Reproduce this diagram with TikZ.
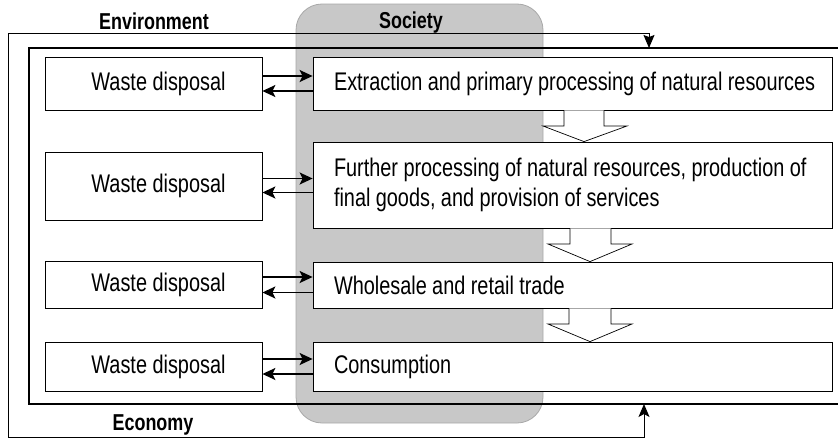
\documentclass[tikz,border=0pt]{standalone}
\usepackage{fontspec}
\setmainfont{Liberation Sans}[FakeStretch=0.78]
\usetikzlibrary{arrows.meta,calc}
\definecolor{socfill}{HTML}{C8C8C8}
\definecolor{socdraw}{HTML}{A8A8A8}
\newcommand\stagesp{\spaceskip=5.4pt\relax\hyphenpenalty=10000\relax\hspace*{10.5pt}}
\newcommand\indentline{\hspace*{10.5pt}}
\tikzset{
  wastebox/.style={draw, line width=0.8pt, fill=white, minimum width=217pt, inner sep=0pt,
    font=\fontsize{25.5}{29.5}\selectfont},
  stagebox/.style={draw, line width=0.8pt, fill=white, minimum width=519pt, text width=498pt,
    inner xsep=10.5pt, inner ysep=0pt, align=left,
    font=\fontsize{25.5}{29.5}\selectfont},
  flowarrow/.style={line width=1.8pt, -{Stealth[length=13pt,width=12pt,inset=3pt]}},
  blockarrow/.style={draw, line width=0.7pt, fill=white},
  envline/.style={line width=1pt, {Stealth[length=13pt,width=11pt,inset=3pt]}-{Stealth[length=13pt,width=11pt,inset=2pt]}},
  econline/.style={line width=1.6pt},
  heading/.style={anchor=base, inner sep=0pt, font=\fontsize{23}{27}\selectfont\bfseries}
}
\begin{document}
\begin{tikzpicture}[x=1pt,y=-1pt]
\useasboundingbox (0,0) rectangle (838,439);
% society
\filldraw[fill=socfill, draw=socdraw, line width=0.8pt, rounded corners=26pt] (296,4) rectangle (543,423);
% headings
\node[heading] (env) at (154,29) {Environment};
\node[heading] (soc) at (411,28) {Society};
\node[heading] (eco) at (153,430) {Economy};
% economy frame
\coordinate (econTL) at (29,48);
\coordinate (econBL) at (29,404);
\coordinate (econTR) at (838,48);
\coordinate (econBR) at (838,404);
\draw[econline] (econTR) -- (econTL) -- (econBL) -- (econBR);
% environment frame
\coordinate (envIn1) at (649,48);
\coordinate (envIn2) at (644,404);
\draw[envline] (envIn2) -- (644,437) -- (8,437) -- (8,33) -- (649,33) -- (envIn1);
% waste boxes
\node[wastebox, minimum height=53pt] (w1) at (153.5,83.5) {\hspace*{10pt}Waste disposal};
\node[wastebox, minimum height=68pt] (w2) at (153.5,186) {\hspace*{10pt}Waste disposal};
\node[wastebox, minimum height=47pt] (w3) at (153.5,284.5) {\hspace*{10pt}Waste disposal};
\node[wastebox, minimum height=49pt] (w4) at (153.5,366.5) {\hspace*{10pt}Waste disposal};
% stage boxes
\node[stagebox, minimum height=53pt] (r1) at (572.5,83.5) {\stagesp Extraction and primary processing of natural resources};
\node[stagebox, minimum height=86pt] (r2) at (572.5,185) {\stagesp Further processing of natural resources, production of\\\indentline final goods, and provision of services};
\node[stagebox, minimum height=46pt] (r3) at (572.5,285) {\stagesp Wholesale and retail trade};
\node[stagebox, minimum height=49pt] (r4) at (572.5,366.5) {\stagesp Consumption};
% flows between waste boxes and stages
\foreach \i in {1,2,3,4}{
  \draw[flowarrow] ([yshift=7.5pt]w\i.east) -- ([yshift=7.5pt]w\i.east -| r\i.west);
  \draw[flowarrow] ([yshift=-7.5pt]r\i.west) -- ([yshift=-7.5pt]r\i.west -| w\i.east);
}
% block arrows between stages
\draw[blockarrow] (r1.south -| 564,0) -- (564,126) -- (543,126) -- (r2.north -| 584,0) -- (627,126) -- (604,126) -- (r1.south -| 604,0);
\draw[blockarrow] (r2.south -| 570,0) -- (570,244) -- (548,244) -- (r3.north -| 590,0) -- (632,244) -- (611,244) -- (r2.south -| 611,0);
\draw[blockarrow] (r3.south -| 569,0) -- (569,324) -- (548,324) -- (r4.north -| 590,0) -- (632,324) -- (611,324) -- (r3.south -| 611,0);
\end{tikzpicture}
\end{document}
